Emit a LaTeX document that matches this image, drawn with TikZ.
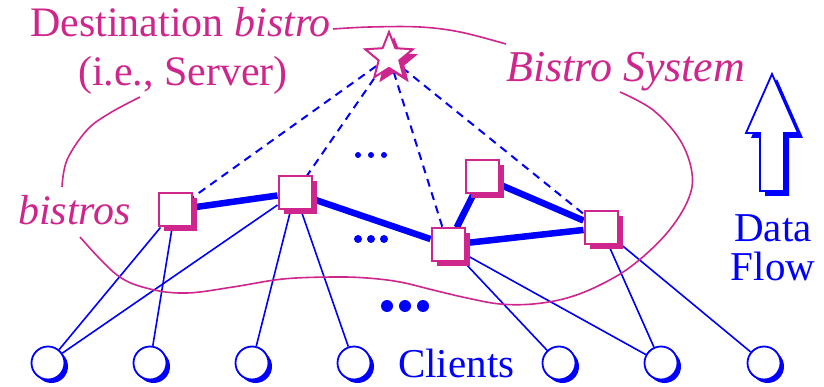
\documentclass[tikz,border=0pt]{standalone}
\usepackage{fontspec}
\setmainfont{Liberation Serif}
\usetikzlibrary{shapes.geometric,backgrounds}
\definecolor{bmag}{RGB}{206,38,140}
\definecolor{bblue}{RGB}{0,0,255}

\tikzset{
  shadowed/.style={preaction={fill=#1,transform canvas={xshift=5pt,yshift=-5pt}}},
  bistro/.style={rectangle,draw=bmag,fill=white,line width=2pt,
    minimum size=33pt,inner sep=0pt,shadowed=bmag},
  server/.style={star,star points=5,star point ratio=2.3,draw=bmag,fill=white,
    line width=2pt,minimum size=50pt,inner sep=0pt,shadowed=bmag},
  client/.style={circle,draw=bblue,fill=white,line width=1.8pt,
    minimum size=33pt,inner sep=0pt,
    preaction={fill=bblue,transform canvas={xshift=3.5pt,yshift=-3.5pt}}},
  link/.style={bblue,line width=6.5pt},
  uplink/.style={bblue,line width=2pt,dash pattern=on 8pt off 6pt},
  access/.style={bblue,line width=1.6pt},
  boundary/.style={bmag,line width=1.6pt},
  magtext/.style={bmag,inner sep=0pt,font=\fontsize{42}{49}\selectfont},
  bluetext/.style={bblue,inner sep=0pt,font=\fontsize{41}{38}\selectfont},
  dot/.style={bblue,fill=bblue}
}

\begin{document}
\begin{tikzpicture}[x=1pt,y=-1pt]
\useasboundingbox (0,0) rectangle (824,387);

% overlay (bistro) nodes and the destination
\node[server] (S) at (389,57) {};
\node[bistro] (A) at (175,210) {};
\node[bistro] (B) at (295,193) {};
\node[bistro] (C) at (448,245) {};
\node[bistro] (D) at (482,177) {};
\node[bistro] (E) at (601,228) {};

% clients
\node[client] (c1) at (48,363) {};
\node[client] (c2) at (150,363) {};
\node[client] (c3) at (252,363) {};
\node[client] (c4) at (354,363) {};
\node[client] (c5) at (559,363) {};
\node[client] (c6) at (661,363) {};
\node[client] (c7) at (764,363) {};

\begin{scope}[on background layer]
  % overlay links
  \draw[link] (A) -- (B);
  \draw[link] (B) -- (C);
  \draw[link] (C) -- (E);
  \draw[link] (C) -- (D);
  \draw[link] (D) -- (E);
  % links towards the destination
  \draw[uplink] (S) -- (A);
  \draw[uplink] (S) -- (B);
  \draw[uplink] (S) -- (C);
  \draw[uplink] (S) -- (E);
  % client attachments
  \draw[access] (c1) -- (A);
  \draw[access] (c1) -- (B);
  \draw[access] (c2) -- (A);
  \draw[access] (c3) -- (B);
  \draw[access] (c4) -- (B);
  \draw[access] (c5) -- (C);
  \draw[access] (c6) -- (C);
  \draw[access] (c6) -- (E);
  \draw[access] (c7) -- (E);
\end{scope}

% system boundary
\draw[boundary] plot[smooth,tension=0.6] coordinates
  {(333,29) (370,27) (420,27) (460,32) (506,44)};
\draw[boundary] plot[smooth,tension=0.6] coordinates
  {(620,92) (653,110) (680,140) (692,173) (688,200) (667,233) (633,265)
   (600,285) (567,298) (533,304) (500,304) (467,298) (433,290) (400,282)
   (367,278) (333,277) (283,279) (233,287) (187,293) (150,289) (117,275) (80,237)};
\draw[boundary] plot[smooth,tension=0.6] coordinates
  {(62,187) (67,160) (87,130) (110,113) (140,97)};

% ellipses
\foreach \x in {358,371,384} \fill[dot] (\x,155) circle (3pt);
\foreach \x in {358,371,384} \fill[dot] (\x,239) circle (4pt);
\foreach \x in {387,405,423} \fill[dot] (\x,306) circle (6pt);

% data-flow arrow
\fill[bblue,shift={(5,5)}] (772,74) -- (798,133) -- (784,133) -- (784,191)
  -- (760,191) -- (760,133) -- (746,133) -- cycle;
\draw[bblue,fill=white,line width=1.8pt,line join=miter] (772,74) -- (798,133) -- (784,133) -- (784,191)
  -- (760,191) -- (760,133) -- (746,133) -- cycle;

% labels
\node[magtext,anchor=base west] (ldest) at (30,37) {Destination \textit{bistro}};
\node[magtext,anchor=base] (lserv) at (183,86) {(i.e., Server)};
\node[magtext,anchor=base west,font=\fontsize{44}{49}\selectfont] (lsys) at (506,82) {\textit{Bistro System}};
\node[magtext,anchor=base west] (lbis) at (18,225) {\textit{bistros}};
\node[bluetext,anchor=base] (ldata) at (773,242) {Data};
\node[bluetext,anchor=base] (lflow) at (773,280) {Flow};
\node[bluetext,anchor=base west] (lcli) at (398,377) {Clients};
\end{tikzpicture}
\end{document}
